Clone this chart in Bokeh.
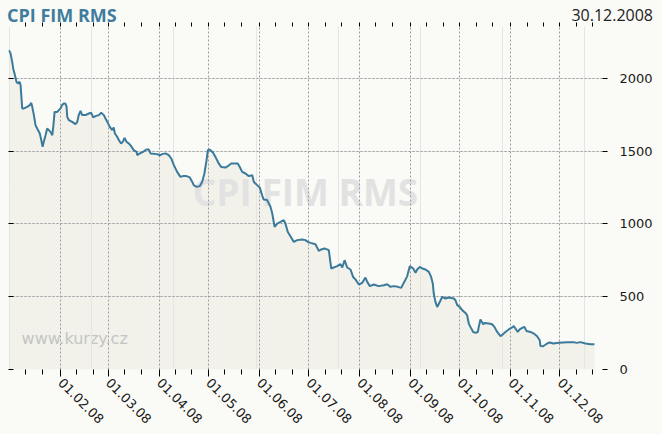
import math
from bokeh.plotting import figure
from bokeh.layouts import column
from bokeh.models import LinearAxis, FixedTicker, Range1d, Grid, Div
from bokeh.embed import file_html
from bokeh.resources import INLINE
from bokeh.core.properties import value

title_text = "CPI FIM RMS"
date_text = "30.12.2008"
site_text = "www.kurzy.cz"

# day offsets from 1 Jan 2008
days = [
    -0.4, 0.6, 1.6, 2.2, 3.0, 4.2, 5.0, 6.1, 6.7, 7.7,
    8.7, 10.7, 12.3, 13.2, 13.8, 14.8, 15.8, 16.8, 18.4, 19.3,
    20.1, 20.8, 21.9, 22.9, 23.9, 24.9, 26.0, 26.6, 27.4, 29.0,
    30.0, 31.0, 32.0, 33.0, 34.0, 34.7, 35.1, 36.1, 38.1, 40.1,
    41.2, 42.1, 43.2, 44.2, 46.2, 48.2, 49.7, 50.9, 52.3, 54.3,
    55.8, 57.4, 58.4, 59.8, 61.0, 62.5, 63.4, 64.1, 65.5, 66.5,
    67.9, 68.9, 70.0, 71.2, 72.6, 74.0, 75.6, 77.3, 77.7, 79.3,
    81.3, 83.3, 84.7, 85.8, 89.9, 91.4, 92.9, 94.9, 96.9, 98.4,
    100.0, 102.0, 104.0, 105.7, 107.7, 109.7, 111.2, 112.1, 113.8, 115.8,
    117.2, 118.6, 119.9, 120.7, 121.3, 122.3, 123.9, 125.3, 127.3, 128.8,
    131.4, 132.8, 134.9, 138.9, 140.1, 141.6, 143.6, 145.6, 147.7, 148.7,
    150.7, 152.3, 153.8, 154.7, 156.8, 158.8, 159.9, 161.3, 162.9, 164.9,
    166.9, 167.9, 169.3, 171.4, 173.0, 175.1, 178.1, 180.1, 181.5, 183.2,
    186.2, 188.2, 189.7, 191.7, 194.3, 195.8, 197.3, 199.4, 201.4, 202.5,
    203.9, 205.5, 207.5, 209.1, 210.5, 212.6, 214.6, 216.6, 217.7, 219.3,
    221.7, 224.7, 227.8, 229.8, 231.9, 233.9, 236.3, 238.4, 239.9, 242.0,
    243.6, 245.7, 247.1, 248.1, 249.7, 251.2, 253.2, 255.2, 256.6, 257.6,
    258.2, 259.2, 260.3, 261.9, 263.3, 265.3, 267.3, 270.4, 271.4, 272.5,
    274.0, 275.5, 277.5, 278.5, 279.5, 280.5, 282.2, 283.6, 285.0, 285.6,
    286.6, 288.3, 289.1, 291.7, 293.7, 295.1, 296.8, 298.8, 300.4, 301.8,
    303.8, 305.9, 306.9, 307.9, 309.3, 310.5, 312.6, 313.4, 314.6, 317.1,
    319.1, 321.1, 322.7, 323.1, 324.8, 327.2, 328.8, 330.9, 334.3, 339.4,
    343.4, 345.1, 347.5, 350.5, 353.6, 356.0,
]
prices = [
    2195, 2172, 2114, 2069, 2034, 1977, 1966, 1977, 1954, 1794,
    1794, 1805, 1817, 1832, 1805, 1748, 1679, 1656, 1622, 1576,
    1530, 1564, 1610, 1656, 1645, 1633, 1610, 1667, 1770, 1770,
    1782, 1794, 1817, 1828, 1828, 1805, 1736, 1713, 1702, 1686,
    1702, 1748, 1777, 1748, 1748, 1759, 1764, 1732, 1741, 1748,
    1764, 1748, 1725, 1695, 1667, 1645, 1663, 1622, 1599, 1576,
    1553, 1564, 1592, 1564, 1553, 1535, 1507, 1496, 1473, 1485,
    1496, 1512, 1512, 1485, 1480, 1471, 1480, 1485, 1473, 1450,
    1404, 1358, 1324, 1329, 1329, 1320, 1289, 1267, 1255, 1260,
    1289, 1347, 1438, 1507, 1512, 1507, 1489, 1461, 1416, 1392,
    1388, 1397, 1416, 1416, 1392, 1358, 1347, 1329, 1335, 1289,
    1267, 1250, 1195, 1168, 1164, 1118, 1072, 980, 1003, 1014,
    1026, 1003, 946, 907, 877, 889, 893, 889, 877, 870,
    861, 815, 825, 832, 820, 694, 701, 710, 724, 701,
    751, 701, 687, 636, 619, 584, 595, 632, 602, 573,
    584, 573, 579, 586, 568, 573, 568, 561, 595, 640,
    710, 694, 664, 687, 705, 694, 687, 671, 636, 591,
    522, 465, 430, 465, 499, 488, 495, 488, 476, 442,
    430, 408, 389, 373, 316, 293, 258, 252, 258, 293,
    344, 311, 320, 316, 311, 293, 258, 229, 243, 258,
    275, 289, 298, 282, 258, 275, 289, 293, 265, 258,
    247, 229, 201, 162, 160, 179, 186, 179, 183, 188,
    188, 183, 188, 179, 174, 174,
]

month_days = [31, 60, 91, 121, 152, 182, 213, 244, 274, 305, 335]
month_labels = ["01.02.08", "01.03.08", "01.04.08", "01.05.08", "01.06.08",
                "01.07.08", "01.08.08", "01.09.08", "01.10.08", "01.11.08", "01.12.08"]
minor_days = [10, 20, 41, 51, 70, 80, 101, 111, 131, 141, 162, 172, 192, 202,
              223, 233, 254, 264, 284, 294, 315, 325, 345, 355]
y_ticks = [0, 500, 1000, 1500, 2000]

BG = "#fafaf6"
FILL = "#f2f2ea"
LINE = "#3b7a9b"
GRID = "#9c9c9c"
FONT = "DejaVu Sans"

x0, x1 = -0.65, 360.9
y0, y1 = 0, 2357

header = Div(
    text=(
        '<div style="position:relative;width:662px;height:22px;">'
        '<span style="position:absolute;left:7px;top:7px;font-family:\'Open Sans\';'
        'font-weight:bold;font-size:18px;line-height:16px;color:#3f7c9e;white-space:nowrap;">'
        + title_text + '</span>'
        '<span style="position:absolute;right:9px;top:7px;font-family:\'Open Sans\';'
        'font-size:16px;line-height:16px;color:#222222;white-space:nowrap;">'
        + date_text + '</span></div>'
    ),
    width=662, height=22, margin=(0, 0, 0, 0),
    styles={"background-color": BG},
)

p = figure(frame_width=594, frame_height=343,
           x_range=Range1d(x0, x1), y_range=Range1d(y0, y1),
           x_axis_location=None, y_axis_location=None,
           output_backend="svg", toolbar_location=None,
           min_border_left=8, min_border_right=60, min_border_top=4, min_border_bottom=65,
           background_fill_color=BG, border_fill_color=BG, outline_line_color=None)

def style_axis(ax):
    ax.axis_line_color = None
    ax.major_tick_line_color = "#000000"
    ax.minor_tick_line_color = "#000000"
    ax.major_label_text_font = FONT
    ax.major_label_text_font_size = "13px"
    ax.major_label_text_color = "#1a1a1a"

bottom = LinearAxis(ticker=FixedTicker(ticks=month_days, minor_ticks=minor_days),
                    major_label_overrides=dict(zip(month_days, month_labels)))
style_axis(bottom)
bottom.major_label_orientation = -math.pi / 4
bottom.major_tick_in = 0
bottom.major_tick_out = 7
bottom.minor_tick_in = 0
bottom.minor_tick_out = 5
bottom.major_label_standoff = 4
p.add_layout(bottom, "below")

# top: tick marks only (all drawn as minor ticks, so no labels exist)
top = LinearAxis(ticker=FixedTicker(ticks=[], minor_ticks=sorted(month_days + minor_days)))
style_axis(top)
top.minor_tick_in = 0
top.minor_tick_out = 4
top.major_tick_out = 0
p.add_layout(top, "above")

right = LinearAxis(ticker=FixedTicker(ticks=y_ticks, minor_ticks=[]))
style_axis(right)
right.major_tick_in = 0
right.major_tick_out = 5
right.minor_tick_out = 0
right.major_label_standoff = 12
p.add_layout(right, "right")

# left: inward tick marks only
left = LinearAxis(ticker=FixedTicker(ticks=[], minor_ticks=y_ticks))
style_axis(left)
left.minor_tick_in = 5
left.minor_tick_out = 0
left.major_tick_out = 0
p.add_layout(left, "left")

for dim, tk in ((0, FixedTicker(ticks=month_days)), (1, FixedTicker(ticks=y_ticks))):
    g = Grid(dimension=dim, ticker=tk, grid_line_color=GRID, grid_line_dash="2 2",
             grid_line_width=1)
    p.add_layout(g, "center")

# area under the curve (below the grid)
p.varea(x=days, y1=[0] * len(days), y2=prices, fill_color=FILL, level="image")

# watermarks behind the line
p.text(x=[(x0 + x1) / 2], y=[y1 * 0.52], text=[title_text],
       text_font=value("Open Sans"), text_font_style="bold", text_font_size="37px",
       text_color="#e2e2e2", text_align="center", text_baseline="alphabetic",
       level="underlay")
p.text(x=[x0 + (x1 - x0) * 0.022], y=[y1 * 0.089], text=[site_text],
       text_font=value(FONT), text_font_size="16px",
       text_color="#c4c4c4", text_align="left", text_baseline="alphabetic",
       level="underlay")

p.line(x=days, y=prices, line_color=LINE, line_width=2)

layout = column(header, p, spacing=0, styles={"background-color": BG})

html = file_html(layout, INLINE)
html = html.replace("<body>", '<body style="background-color:%s;">' % BG, 1)
open("out.html", "w").write(html)
